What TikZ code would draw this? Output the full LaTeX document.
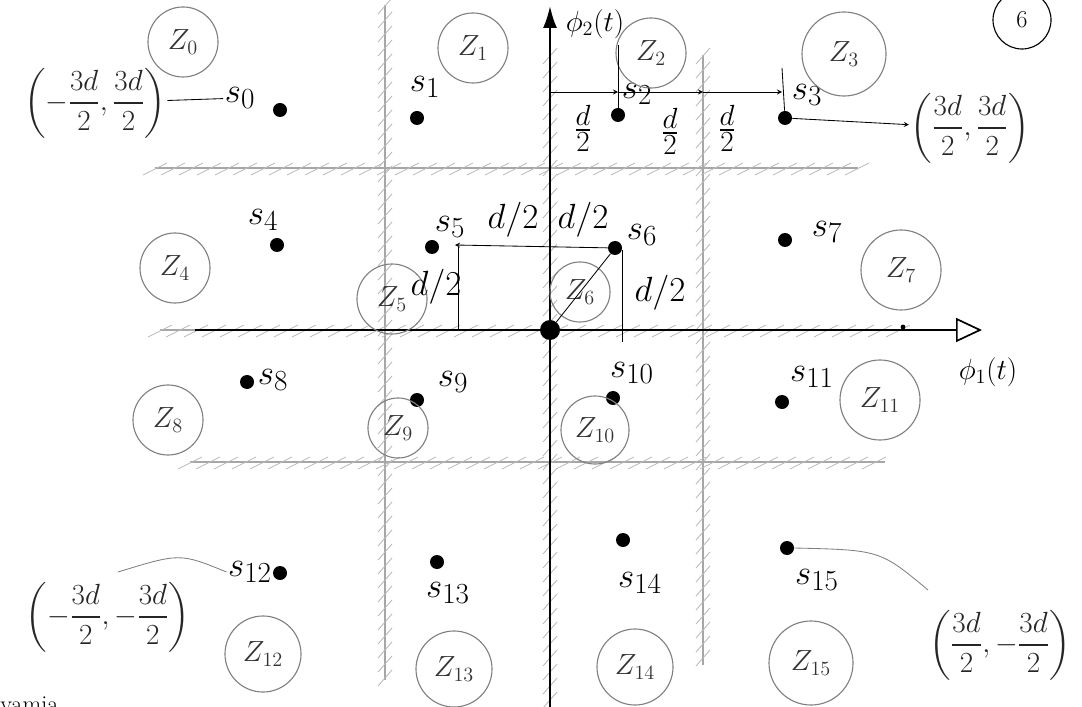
\documentclass[tikz,border=0pt]{standalone}
\usepackage{amsmath}
\usetikzlibrary{arrows, arrows.meta, shapes.geometric}
\tikzstyle{sym} = [circle, fill=black, inner sep=0pt, minimum size=0.35cm]
\tikzstyle{sLabel} = [font=\Huge, inner sep=1pt]
\tikzstyle{zone} = [circle, draw=gray, thick, minimum size=1.75cm, font=\huge, inner sep=1pt, text=black!80]
\tikzstyle{half} = [font=\Huge, inner sep=1pt]
\tikzstyle{point} = [font=\huge, inner sep=1pt, text=black!85]
\tikzstyle{arrow} = [thick,->,>=stealth]
\tikzstyle{dim} = [semithick]
\tikzstyle{wall} = [gray!70, thick]
\tikzstyle{hatch} = [gray!55, semithick]

% hatched decision boundaries (pixel-like units)
\newcommand{\hwall}[3]{%
  \draw[wall] (#2,#1) -- (#3,#1);
  \pgfmathtruncatemacro{\nh}{(#3-#2)/18}
  \foreach \k in {0,...,\nh}
    \draw[hatch] (#2+18*\k-12,#1+7) -- (#2+18*\k+12,#1-5);
}
\newcommand{\vwall}[3]{%
  \draw[wall] (#1,#2) -- (#1,#3);
  \pgfmathtruncatemacro{\nv}{(#3-#2)/14}
  \foreach \k in {0,...,\nv}
    \draw[hatch] (#1-7,#2+14*\k+9) -- (#1+7,#2+14*\k-7);
}

\begin{document}
\begin{tikzpicture}[x=0.025cm, y=-0.025cm]
        \useasboundingbox (0,0) rectangle (1082,707);

        % boundaries
        \vwall{385}{5}{680}
        \vwall{550}{55}{700}
        \vwall{703}{55}{665}
        \hwall{168}{155}{858}
        \hwall{330}{160}{905}
        \hwall{462}{190}{885}

        % axes
        \coordinate (ybot) at (550,707);
        \coordinate (ytop) at (550,6);
        \coordinate (xleft) at (195,330);
        \coordinate (xright) at (982,330);
        \draw [line width=1.6pt, -{Latex[length=0.55cm,width=0.35cm]}] (ybot) -- (ytop);
        \draw [line width=1.2pt, -{Triangle[open,length=0.65cm,width=0.6cm,line width=1.2pt]}] (xleft) -- (xright);
        \node (phi2) [font=\huge] at (595,24) {$\phi_2(t)$};
        \node (phi1) [font=\huge] at (988,372) {$\phi_1(t)$};
        \node (tick) [circle, fill=black, inner sep=0pt, minimum size=0.12cm] at (903,327) {};

        % symbols
        \node (s0) [sym] at (280,110) {};
        \node (s1) [sym] at (417,118) {};
        \node (s2) [sym] at (618,115) {};
        \node (s3) [sym] at (785,118) {};
        \node (s4) [sym] at (277,245) {};
        \node (s5) [sym] at (432,247) {};
        \node (s6) [sym] at (615,248) {};
        \node (s7) [sym] at (785,240) {};
        \node (s8) [sym] at (247,382) {};
        \node (s9) [sym] at (417,400) {};
        \node (s10) [sym] at (613,398) {};
        \node (s11) [sym] at (782,402) {};
        \node (s12) [sym] at (280,573) {};
        \node (s13) [sym] at (437,562) {};
        \node (s14) [sym] at (623,540) {};
        \node (s15) [sym] at (787,548) {};
        \node (o) [sym, minimum size=0.5cm] at (550,330) {};

        \node (l0) [sLabel] at (240,98) {$s_0$};
        \node (l1) [sLabel] at (425,87) {$s_1$};
        \node (l2) [sLabel] at (637,94) {$s_2$};
        \node (l3) [sLabel] at (807,95) {$s_3$};
        \node (l4) [sLabel] at (263,220) {$s_4$};
        \node (l5) [sLabel] at (450,227) {$s_5$};
        \node (l6) [sLabel] at (642,235) {$s_6$};
        \node (l7) [sLabel] at (827,232) {$s_7$};
        \node (l8) [sLabel] at (273,380) {$s_8$};
        \node (l9) [sLabel] at (453,382) {$s_9$};
        \node (l10) [sLabel] at (632,373) {$s_{10}$};
        \node (l11) [sLabel] at (812,377) {$s_{11}$};
        \node (l12) [sLabel] at (250,572) {$s_{12}$};
        \node (l13) [sLabel] at (448,593) {$s_{13}$};
        \node (l14) [sLabel] at (640,583) {$s_{14}$};
        \node (l15) [sLabel] at (817,580) {$s_{15}$};

        % decision regions
        \node (z0) [zone] at (183,42) {$Z_0$};
        \node (z1) [zone] at (473,48) {$Z_1$};
        \node (z2) [zone] at (651,53) {$Z_2$};
        \node (z3) [zone, minimum size=2.1cm] at (844,54) {$Z_3$};
        \node (z4) [zone] at (175,268) {$Z_4$};
        \node (z5) [zone] at (392,299) {$Z_5$};
        \node (z6) [zone, minimum size=1.5cm] at (580,292) {$Z_6$};
        \node (z7) [zone, minimum size=2cm] at (901,270) {$Z_7$};
        \node (z8) [zone] at (168,420) {$Z_8$};
        \node (z9) [zone, minimum size=1.5cm] at (398,428) {$Z_9$};
        \node (z10) [zone, minimum size=1.7cm] at (595,430) {$Z_{10}$};
        \node (z11) [zone, minimum size=2cm] at (880,400) {$Z_{11}$};
        \node (z12) [zone, minimum size=1.9cm] at (263,654) {$Z_{12}$};
        \node (z13) [zone, minimum size=1.9cm] at (454,669) {$Z_{13}$};
        \node (z14) [zone, minimum size=1.9cm] at (635,667) {$Z_{14}$};
        \node (z15) [zone, minimum size=2.1cm] at (811,663) {$Z_{15}$};

        % corner points
        \node (c0) [point] at (95,103) {$\left(-\dfrac{3d}{2},\dfrac{3d}{2}\right)$};
        \node (c3) [point] at (970,128) {$\left(\dfrac{3d}{2},\dfrac{3d}{2}\right)$};
        \node (c12) [point] at (108,617) {$\left(-\dfrac{3d}{2},-\dfrac{3d}{2}\right)$};
        \node (c15) [point] at (1000,645) {$\left(\dfrac{3d}{2},-\dfrac{3d}{2}\right)$};
        \coordinate (k12) at (118,572);
        \coordinate (k15) at (928,590);
        \draw [dim] (c0) -- (l0);
        \draw [arrow, semithick] (s3) -- (c3);
        \draw [dim, gray] (l12.west) .. controls (180,553) .. (k12);
        \draw [dim, gray] (s15.east) .. controls (880,550) .. (k15);

        % spacing along the top row
        \coordinate (a0) at (550,92);
        \coordinate (a1) at (618,92);
        \coordinate (a2) at (703,92);
        \coordinate (a3) at (782,92);
        \coordinate (e2) at (618,45);
        \coordinate (e3) at (782,68);
        \draw [arrow, semithick] (a0) -- (a1);
        \draw [arrow, semithick] (a1) -- (a2);
        \draw [arrow, semithick] (a2) -- (a3);
        \draw [dim] (e2) -- (s2);
        \draw [dim] (e3) -- (s3);
        \node (h1) [half] at (583,128) {$\frac{d}{2}$};
        \node (h2) [half] at (670,131) {$\frac{d}{2}$};
        \node (h3) [half] at (727,128) {$\frac{d}{2}$};

        % distances of s5, s6 from the axes
        \coordinate (b5) at (455,245);
        \coordinate (v5t) at (458,247);
        \coordinate (v5b) at (458,330);
        \coordinate (v6t) at (622,250);
        \coordinate (v6b) at (622,342);
        \draw [arrow, semithick] (s6) -- (b5);
        \draw [dim] (v5t) -- (v5b);
        \draw [dim] (v6t) -- (v6b);
        \draw [dim] (o) -- (s6);
        \node (m1) [half] at (513,220) {$d/2$};
        \node (m2) [half] at (583,220) {$d/2$};
        \node (m3) [half] at (436,287) {$d/2$};
        \node (m4) [half] at (660,293) {$d/2$};

        % page mark and cut-off note
        \node (pg) [circle, draw, thick, minimum size=1.45cm, font=\LARGE] at (1022,20) {6};
        \node (note) [font=\LARGE, anchor=north west, inner sep=0pt] at (0,697) {yamia};
    \end{tikzpicture}
\end{document}
